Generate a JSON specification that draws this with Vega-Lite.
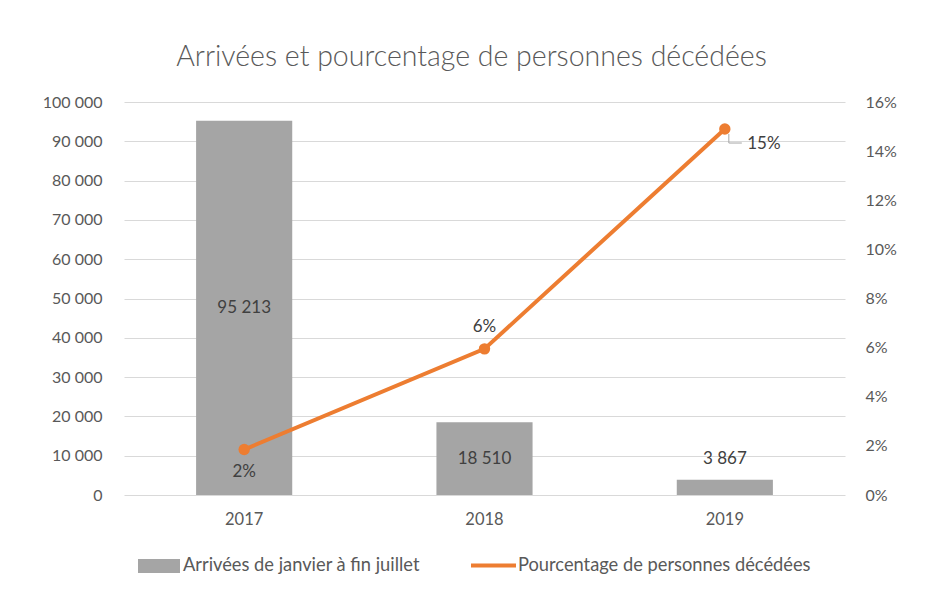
{
  "$schema": "https://vega.github.io/schema/vega-lite/v6.json",
  "width": 721,
  "height": 393,
  "autosize": {"type": "none"},
  "padding": {"left": 124, "top": 102, "right": 80, "bottom": 111},
  "background": "white",
  "title": {
    "text": "Arrivées et pourcentage de personnes décédées",
    "anchor": "middle",
    "frame": "group",
    "font": "Lato",
    "fontSize": 28.5,
    "fontWeight": 300,
    "color": "#595959",
    "baseline": "alphabetic",
    "offset": 0,
    "dx": -13
  },
  "data": {
    "values": [
      {"year": "2017", "arrivees": 95213, "pct": 0.0185},
      {"year": "2018", "arrivees": 18510, "pct": 0.0595},
      {"year": "2019", "arrivees": 3867, "pct": 0.149}
    ]
  },
  "encoding": {
    "x": {
      "field": "year",
      "type": "ordinal",
      "scale": {"paddingInner": 0.6, "paddingOuter": 0.3},
      "axis": {
        "title": null,
        "labelAngle": 0,
        "domain": false,
        "ticks": false,
        "tickSize": 0,
        "labelPadding": 16,
        "labelFont": "Lato",
        "labelFontSize": 16.5,
        "labelColor": "#595959",
        "grid": false
      }
    }
  },
  "layer": [
    {
      "mark": {"type": "bar", "color": "#A5A5A5"},
      "encoding": {
        "y": {
          "field": "arrivees",
          "type": "quantitative",
          "scale": {"domain": [0, 100000]},
          "axis": {
            "orient": "left",
            "title": null,
            "format": ",d",
            "values": [0, 10000, 20000, 30000, 40000, 50000, 60000, 70000, 80000, 90000, 100000],
            "domain": false,
            "ticks": false,
            "tickSize": 0,
            "labelPadding": 22,
            "labelFont": "Lato",
            "labelFontSize": 16,
            "labelColor": "#595959",
            "grid": true,
            "gridColor": "#D9D9D9",
            "gridWidth": 1
          }
        },
        "fill": {
          "datum": "Arrivées de janvier à fin juillet",
          "type": "nominal",
          "scale": {"range": ["#A5A5A5"]},
          "legend": {
            "title": null,
            "orient": "none",
            "legendX": 14,
            "legendY": 443,
            "padding": 0,
            "symbolType": "M-1,-0.33H1V0.33H-1Z",
            "symbolSize": 1764,
            "symbolStrokeWidth": 0,
            "labelFont": "Lato",
            "labelFontSize": 18.3,
            "labelColor": "#595959",
            "labelOffset": 3,
            "labelLimit": 400
          }
        }
      }
    },
    {
      "transform": [{"filter": "datum.year != '2019'"}],
      "mark": {"type": "text", "font": "Lato", "fontSize": 17, "color": "#404040", "baseline": "middle"},
      "encoding": {
        "y": {"field": "arrivees", "type": "quantitative", "scale": {"domain": [0, 200000]}, "axis": null},
        "text": {"field": "arrivees", "type": "quantitative", "format": ",d"}
      }
    },
    {
      "transform": [{"filter": "datum.year == '2019'"}],
      "mark": {"type": "text", "font": "Lato", "fontSize": 17, "color": "#404040", "baseline": "middle", "dy": -21},
      "encoding": {
        "y": {"field": "arrivees", "type": "quantitative", "scale": {"domain": [0, 100000]}, "axis": null},
        "text": {"field": "arrivees", "type": "quantitative", "format": ",d"}
      }
    },
    {
      "mark": {"type": "line", "strokeWidth": 4},
      "encoding": {
        "y": {
          "field": "pct",
          "type": "quantitative",
          "scale": {"domain": [0, 0.16]},
          "axis": {
            "orient": "right",
            "title": null,
            "format": ".0%",
            "values": [0, 0.02, 0.04, 0.06, 0.08, 0.1, 0.12, 0.14, 0.16],
            "domain": false,
            "ticks": false,
            "tickSize": 0,
            "labelPadding": 20,
            "labelFont": "Lato",
            "labelFontSize": 16,
            "labelColor": "#595959",
            "grid": false
          }
        },
        "stroke": {
          "datum": "Pourcentage de personnes décédées",
          "type": "nominal",
          "scale": {"range": ["#ED7D31"]},
          "legend": {
            "title": null,
            "orient": "none",
            "legendX": 345,
            "legendY": 439,
            "padding": 0,
            "symbolType": "stroke",
            "symbolSize": 2025,
            "symbolStrokeWidth": 4,
            "labelFont": "Lato",
            "labelFontSize": 18.3,
            "labelColor": "#595959",
            "labelOffset": 0,
            "labelLimit": 400
          }
        }
      }
    },
    {
      "mark": {"type": "point", "filled": true, "size": 130, "color": "#ED7D31", "opacity": 1},
      "encoding": {
        "y": {"field": "pct", "type": "quantitative", "scale": {"domain": [0, 0.16]}, "axis": null}
      }
    },
    {
      "transform": [{"filter": "datum.year == '2019'"}],
      "mark": {"type": "rule", "color": "#A6A6A6", "strokeWidth": 1, "xOffset": 4, "yOffset": 5, "y2Offset": 14},
      "encoding": {
        "y": {"field": "pct", "type": "quantitative", "scale": {"domain": [0, 0.16]}, "axis": null},
        "y2": {"field": "pct"}
      }
    },
    {
      "transform": [{"filter": "datum.year == '2019'"}],
      "mark": {"type": "rule", "color": "#A6A6A6", "strokeWidth": 1, "xOffset": 4, "x2Offset": 17, "yOffset": 14},
      "encoding": {
        "y": {"field": "pct", "type": "quantitative", "scale": {"domain": [0, 0.16]}, "axis": null},
        "x2": {"field": "year"}
      }
    },
    {
      "transform": [{"filter": "datum.year == '2017'"}],
      "mark": {"type": "text", "font": "Lato", "fontSize": 17, "color": "#404040", "baseline": "middle", "dy": 22},
      "encoding": {
        "y": {"field": "pct", "type": "quantitative", "scale": {"domain": [0, 0.16]}, "axis": null},
        "text": {"field": "pct", "type": "quantitative", "format": ".0%"}
      }
    },
    {
      "transform": [{"filter": "datum.year == '2018'"}],
      "mark": {"type": "text", "font": "Lato", "fontSize": 17, "color": "#404040", "baseline": "middle", "dy": -22},
      "encoding": {
        "y": {"field": "pct", "type": "quantitative", "scale": {"domain": [0, 0.16]}, "axis": null},
        "text": {"field": "pct", "type": "quantitative", "format": ".0%"}
      }
    },
    {
      "transform": [{"filter": "datum.year == '2019'"}],
      "mark": {"type": "text", "font": "Lato", "fontSize": 17, "color": "#404040", "baseline": "middle", "dx": 39, "dy": 15},
      "encoding": {
        "y": {"field": "pct", "type": "quantitative", "scale": {"domain": [0, 0.16]}, "axis": null},
        "text": {"field": "pct", "type": "quantitative", "format": ".0%"}
      }
    }
  ],
  "resolve": {"scale": {"y": "independent"}, "axis": {"y": "independent"}},
  "config": {
    "locale": {"number": {"decimal": ",", "thousands": " ", "grouping": [3], "currency": ["", " €"]}},
    "view": {"stroke": null},
    "font": "Lato"
  }
}
